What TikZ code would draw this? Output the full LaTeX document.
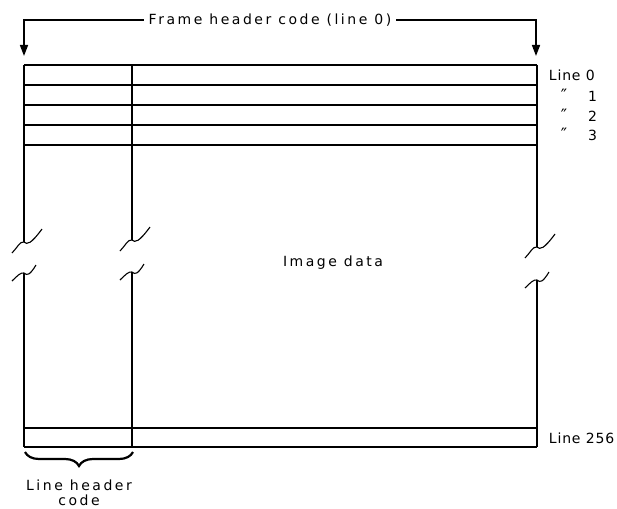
\documentclass[tikz,border=0pt]{standalone}
\usepackage{fontspec}
\newfontfamily\lettering{DejaVu Sans}[LetterSpace=18]
\newfontfamily\tightlettering{DejaVu Sans}[LetterSpace=6]
\usetikzlibrary{arrows.meta}
\usetikzlibrary{decorations.pathreplacing}

\begin{document}
\begin{tikzpicture}[x=1pt,y=-1pt,line width=1.8pt,
  every node/.style={font=\lettering\fontsize{14}{15}\selectfont,inner sep=0pt},
  linelabel/.style={font=\tightlettering\fontsize{14}{15}\selectfont},
  brktop/.pic={\draw[line width=1.1pt] (-12,11) .. controls (-7,6) and (-4,-1) .. (0,0) .. controls (3,3) and (7,2) .. (18,-13);},
  brkbot/.pic={\draw[line width=1.1pt] (-12,8) .. controls (-7,3) and (-3,-1) .. (0,0) .. controls (3,3) and (6,2) .. (12,-8);}]
  \useasboundingbox (0,0) rectangle (617,508);

  %frame header arrows
  \coordinate (tl) at (24,56);
  \coordinate (tr) at (536,56);
  \node[inner xsep=4pt] (fhc) at (270,20) {Frame header code (line 0)};
  \draw[line width=1.6pt,-{Triangle[width=8pt,length=11pt]}] (fhc.west) -| (tl);
  \draw[line width=1.6pt,-{Triangle[width=8pt,length=11pt]}] (fhc.east) -| (tr);

  %rows
  \foreach \y in {65,85,105,125,145,428,447}
    \draw (24,\y) -- (537,\y);

  %columns, broken in the middle
  \draw (24,65) -- (24,242) (24,273) -- (24,447);
  \draw (132,65) -- (132,240) (132,272) -- (132,447);
  \draw (537,65) -- (537,247) (537,280) -- (537,447);
  \pic at (24,242) {brktop};
  \pic at (132,240) {brktop};
  \pic at (537,247) {brktop};
  \pic at (24,273) {brkbot};
  \pic at (132,272) {brkbot};
  \pic at (537,280) {brkbot};

  \node[anchor=base] (img) at (333,266) {Image data};

  %line labels
  \node[linelabel,anchor=west] (l0) at (548,75) {Line 0};
  \node[linelabel,anchor=east] (l1) at (598,95) {{\fontsize{17}{15}\selectfont ″}\hspace{21pt}1};
  \node[linelabel,anchor=east] (l2) at (598,115) {{\fontsize{17}{15}\selectfont ″}\hspace{21pt}2};
  \node[linelabel,anchor=east] (l3) at (598,134) {{\fontsize{17}{15}\selectfont ″}\hspace{21pt}3};
  \node[linelabel,anchor=west] (l256) at (548,438) {Line 256};

  %line header brace
  \coordinate (bl) at (25,452);
  \coordinate (br) at (133,452);
  \draw[line width=2.2pt,decorate,decoration={brace,mirror,amplitude=14pt}] (bl) -- (br);
  \node[align=center,anchor=north] (lhc) at (79,479) {Line header\\code};
\end{tikzpicture}
\end{document}
